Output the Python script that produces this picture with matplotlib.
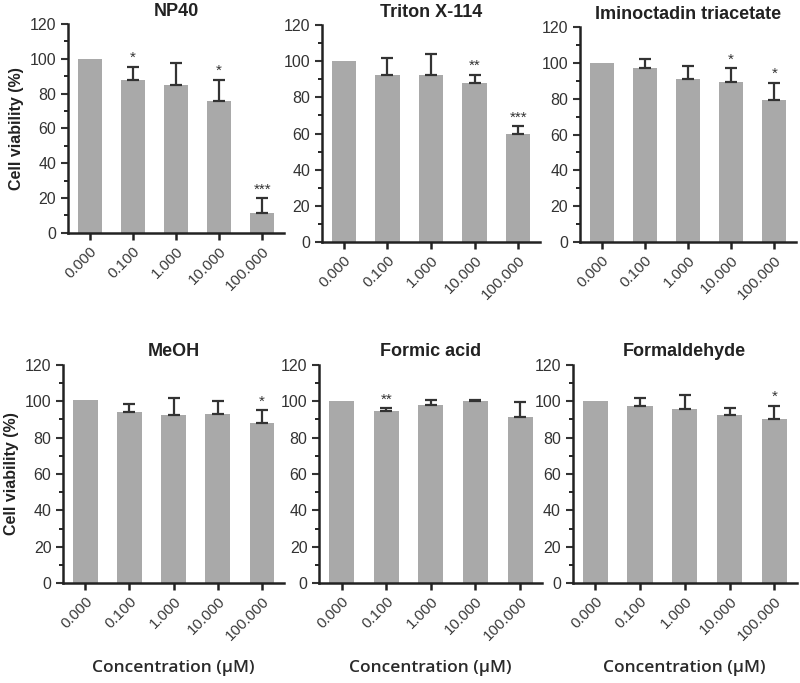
import matplotlib.pyplot as plt
import numpy as np

plt.rcParams['font.family'] = ['Liberation Sans', 'DejaVu Sans']

concentrations = ["0.000", "0.100", "1.000", "10.000", "100.000"]

titles = ["NP40", "Triton X-114", "Iminoctadin triacetate",
          "MeOH", "Formic acid", "Formaldehyde"]

np40_mean = [100, 88, 85, 76, 11.5]
np40_err = [0, 7.5, 12.5, 12, 8.5]
np40_sig = ["", "*", "", "*", "***"]

triton_mean = [100, 92.5, 92.5, 88, 60]
triton_err = [0, 9.5, 11.5, 4.5, 4]
triton_sig = ["", "", "", "**", "***"]

imino_mean = [100, 97, 91, 89.5, 79.5]
imino_err = [0, 5, 7.5, 7.5, 9.5]
imino_sig = ["", "", "", "*", "*"]

meoh_mean = [100.5, 94, 92.5, 93, 88]
meoh_err = [0, 4.5, 9, 7, 7]
meoh_sig = ["", "", "", "", "*"]

formic_mean = [100, 94.5, 98, 100, 91.5]
formic_err = [0, 1.5, 2.5, 0.5, 8]
formic_sig = ["", "**", "", "", ""]

formald_mean = [100, 97.5, 95.5, 92.5, 90]
formald_err = [0, 4.5, 8, 3.5, 7.5]
formald_sig = ["", "", "", "", "*"]

means = [np40_mean, triton_mean, imino_mean, meoh_mean, formic_mean, formald_mean]
errs = [np40_err, triton_err, imino_err, meoh_err, formic_err, formald_err]
sigs = [np40_sig, triton_sig, imino_sig, meoh_sig, formic_sig, formald_sig]

# axes positions [left, bottom, width, height] in figure fractions
positions = [
    [0.085, 0.659, 0.270, 0.306],
    [0.4025, 0.646, 0.2725, 0.317],
    [0.725, 0.646, 0.270, 0.314],
    [0.079, 0.146, 0.276, 0.320],
    [0.399, 0.146, 0.279, 0.320],
    [0.716, 0.146, 0.280, 0.320],
]

fig = plt.figure(figsize=(8, 6.83), dpi=100)

for i in range(6):
    ax = fig.add_axes(positions[i])
    x = np.arange(len(concentrations))
    m = np.array(means[i])
    e = np.array(errs[i])
    ax.bar(x, m, width=0.56, color="#a9a9a9", zorder=2)
    has_err = e > 0
    ax.errorbar(x[has_err], m[has_err],
                yerr=[np.zeros(has_err.sum()), e[has_err]], fmt="none",
                ecolor="#333333", elinewidth=1.6, capsize=4, capthick=1.6,
                zorder=3)
    for xi, mi, ei, s in zip(x, m, e, sigs[i]):
        if s:
            ax.text(xi, mi + ei + 1.0, s, ha="center", va="bottom",
                    fontsize=11, color="#333333")
    ax.set_xlim(-0.5, 4.5)
    ax.set_ylim(0, 120)
    ax.set_yticks(range(0, 121, 20))
    ax.set_yticks(range(0, 121, 10), minor=True)
    ax.set_xticks(x)
    ax.set_xticklabels(concentrations, rotation=45, ha="right",
                       rotation_mode="anchor", fontsize=11, color="#3a3a3a")
    ax.tick_params(axis="y", labelsize=11.5, colors="#333333", width=1.5,
                   length=5, direction="out")
    ax.tick_params(axis="y", which="minor", width=1.2, length=3)
    ax.tick_params(axis="x", width=1.8, length=5, direction="out",
                   colors="#222222", labelcolor="#3a3a3a", pad=3)
    for side in ["top", "right"]:
        ax.spines[side].set_visible(False)
    for side in ["left", "bottom"]:
        ax.spines[side].set_linewidth(1.8)
        ax.spines[side].set_color("#222222")
    ax.set_title(titles[i], fontsize=13, fontweight="bold", color="#222222",
                 pad=6)
    if i in (0, 3):
        ax.set_ylabel("Cell viability (%)", fontsize=11.5, fontweight="bold",
                      color="#222222")
    if i >= 3:
        ax.set_xlabel("Concentration (\u03bcM)", fontsize=12.5,
                      family=["Open Sans", "DejaVu Sans"], fontweight="semibold",
                      color="#2a2a2a", labelpad=12)

fig.savefig("out.png", dpi=100)
